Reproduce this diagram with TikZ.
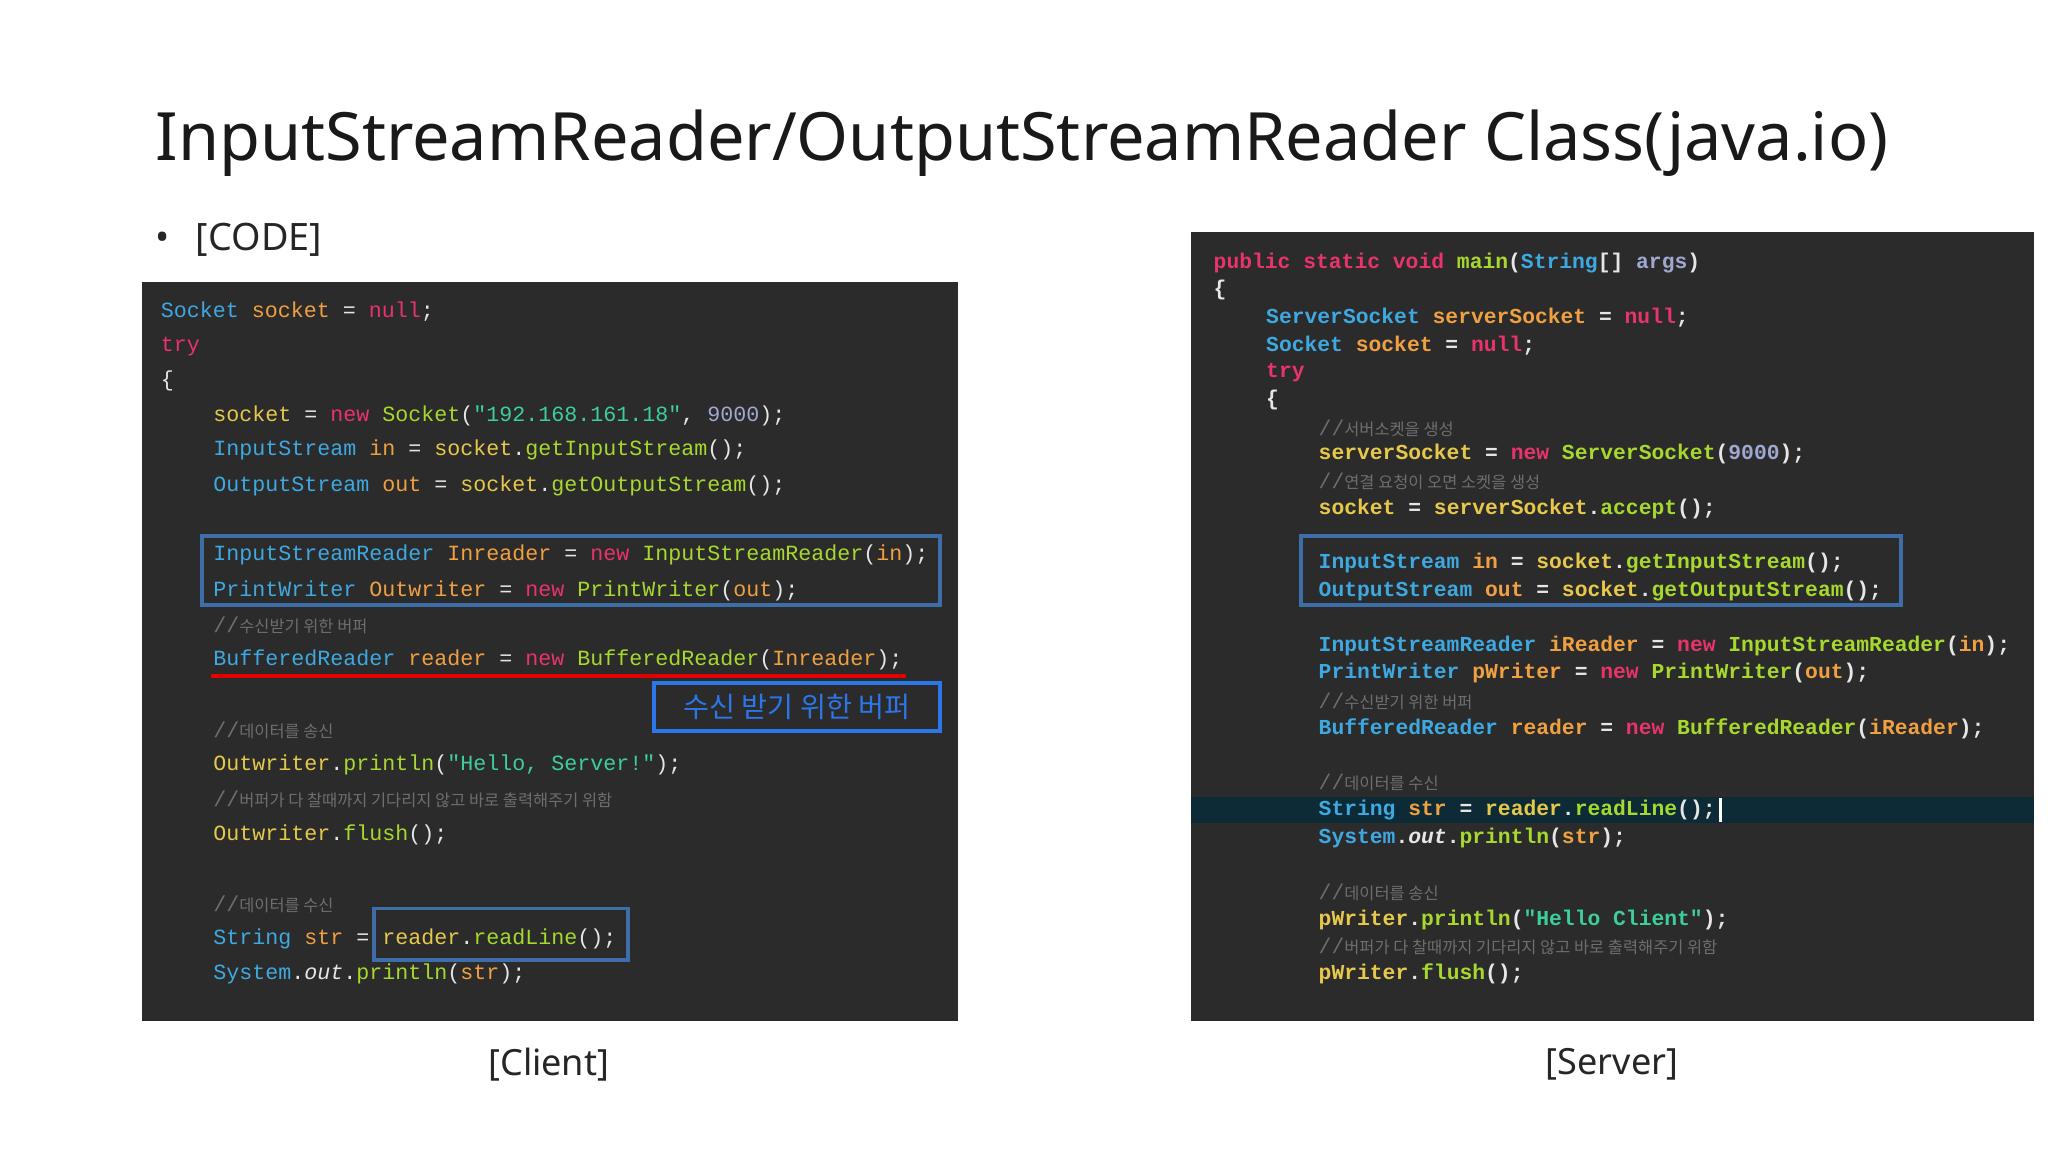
\documentclass[tikz,border=0pt]{standalone}
\usepackage{fontspec}
\setmainfont{Noto Sans}
\setmonofont{Liberation Mono}
\newfontfamily\kr{Noto Sans CJK KR}
\definecolor{cbg}{HTML}{2B2B2B}
\definecolor{cT}{HTML}{3EA8E0}
\definecolor{cV}{HTML}{F0A040}
\definecolor{cK}{HTML}{E8336B}
\definecolor{cM}{HTML}{A6D82E}
\definecolor{cS}{HTML}{3CCF9A}
\definecolor{cN}{HTML}{A0A8D0}
\definecolor{cP}{HTML}{E6E6E6}
\definecolor{cC}{HTML}{6E6E6E}
\definecolor{cO}{HTML}{E6C84A}
\definecolor{cBox}{HTML}{3E6EA8}
\definecolor{cHl}{HTML}{0D2B36}
\newcommand\cTy[1]{\textcolor{cT}{#1}}
\newcommand\cVa[1]{\textcolor{cV}{#1}}
\newcommand\cKw[1]{\textcolor{cK}{#1}}
\newcommand\cMe[1]{\textcolor{cM}{#1}}
\newcommand\cSt[1]{\textcolor{cS}{#1}}
\newcommand\cNu[1]{\textcolor{cN}{#1}}
\newcommand\cPu[1]{\textcolor{cP}{#1}}
\newcommand\cOb[1]{\textcolor{cO}{#1}}
\newcommand\cCo[1]{\textcolor{cC}{\mdseries//{\kr\fontsize{5pt}{6pt}\selectfont #1}}}
\tikzset{
  cl/.style={anchor=west,inner sep=0pt,font=\ttfamily\fontsize{6.6pt}{8pt}\selectfont,text=cP},
  sv/.style={anchor=west,inner sep=0pt,font=\ttfamily\bfseries\fontsize{6.5pt}{8pt}\selectfont,text=cP},
  bluebox/.style={draw=cBox,line width=1.2pt},
  capt/.style={font=\fontsize{11pt}{13pt}\selectfont,text=black!85}
}
\begin{document}
\begin{tikzpicture}[x=0.4pt,y=-0.4pt]
\fill[white] (0,0) rectangle (1560,877.5);
\useasboundingbox (0,0) rectangle (1560,877.5);
\node[anchor=base west,inner sep=0pt,font=\fontsize{20.3pt}{25pt}\selectfont,text=black!90] (title) at (118,122) {InputStreamReader/OutputStreamReader Class(java.io)};
\node[anchor=base west,inner sep=0pt,capt,font=\fontsize{11.5pt}{13pt}\selectfont] (bul) at (118,191) {•\hspace{8pt}[CODE]};
% client
\fill[cbg] (108,215) rectangle (730,778);
\node[cl] (c1) at (122,237) {\cTy{Socket} \cVa{socket} = \cKw{null};};
\node[cl] (c2) at (122,264) {\cKw{try}};
\node[cl] (c3) at (122,290) {\{};
\node[cl] (c4) at (162,317) {\cOb{socket} = \cKw{new} \cMe{Socket}(\cSt{"192.168.161.18"}, \cNu{9000});};
\node[cl] (c5) at (162,343) {\cTy{InputStream} \cVa{in} = \cOb{socket}.\cMe{getInputStream}();};
\node[cl] (c6) at (162,370) {\cTy{OutputStream} \cVa{out} = \cOb{socket}.\cMe{getOutputStream}();};
\node[cl] (c7) at (162,423) {\cTy{InputStreamReader} \cVa{Inreader} = \cKw{new} \cMe{InputStreamReader}(\cVa{in});};
\node[cl] (c8) at (162,450) {\cTy{PrintWriter} \cVa{Outwriter} = \cKw{new} \cMe{PrintWriter}(\cVa{out});};
\node[cl] (c9) at (162,476) {\cCo{수신받기 위한 버퍼}};
\node[cl] (c10) at (162,503) {\cTy{BufferedReader} \cVa{reader} = \cKw{new} \cMe{BufferedReader}(\cVa{Inreader});};
\node[cl] (c11) at (162,556) {\cCo{데이터를 송신}};
\node[cl] (c12) at (162,583) {\cOb{Outwriter}.\cMe{println}(\cSt{"Hello, Server!"});};
\node[cl] (c13) at (162,609) {\cCo{버퍼가 다 찰때까지 기다리지 않고 바로 출력해주기 위함}};
\node[cl] (c14) at (162,636) {\cOb{Outwriter}.\cMe{flush}();};
\node[cl] (c15) at (162,689) {\cCo{데이터를 수신}};
\node[cl] (c16) at (162,715) {\cTy{String} \cVa{str} = \cOb{reader}.\cMe{readLine}();};
\node[cl] (c17) at (162,742) {\cTy{System}.\textit{\cPu{out}}.\cMe{println}(\cVa{str});};
\draw[bluebox] (154,408) rectangle (716,461);
\draw[red!90!black,line width=1.3pt] (161,515) -- (690,515);
\draw[bluebox,draw=cT!70!blue] (498,520) rectangle (716,557);
\node[font=\kr\fontsize{8.6pt}{10pt}\selectfont,text=cT!70!blue] (note) at (607,538.5) {수신 받기 위한 버퍼};
\draw[bluebox] (285,692) rectangle (478,731);
% server
\fill[cbg] (907,177) rectangle (1549,778);
\fill[cHl] (907,607) rectangle (1549,627);
\node[sv] (s1) at (924,200) {\cKw{public static void} \cMe{main}(\cTy{String}[] \cNu{args})};
\node[sv] (s2) at (924,221) {\{};
\node[sv] (s3) at (964,242) {\cTy{ServerSocket} \cVa{serverSocket} = \cKw{null};};
\node[sv] (s4) at (964,263) {\cTy{Socket} \cVa{socket} = \cKw{null};};
\node[sv] (s5) at (964,284) {\cKw{try}};
\node[sv] (s6) at (964,305) {\{};
\node[sv] (s7) at (1004,326) {\cCo{서버소켓을 생성}};
\node[sv] (s8) at (1004,346) {\cOb{serverSocket} = \cKw{new} \cMe{ServerSocket}(\cNu{9000});};
\node[sv] (s9) at (1004,367) {\cCo{연결 요청이 오면 소켓을 생성}};
\node[sv] (s10) at (1004,388) {\cOb{socket} = \cOb{serverSocket}.\cMe{accept}();};
\node[sv] (s11) at (1004,429) {\cTy{InputStream} \cVa{in} = \cOb{socket}.\cMe{getInputStream}();};
\node[sv] (s12) at (1004,450) {\cTy{OutputStream} \cVa{out} = \cOb{socket}.\cMe{getOutputStream}();};
\node[sv] (s13) at (1004,492) {\cTy{InputStreamReader} \cVa{iReader} = \cKw{new} \cMe{InputStreamReader}(\cVa{in});};
\node[sv] (s14) at (1004,513) {\cTy{PrintWriter} \cVa{pWriter} = \cKw{new} \cMe{PrintWriter}(\cVa{out});};
\node[sv] (s15) at (1004,534) {\cCo{수신받기 위한 버퍼}};
\node[sv] (s16) at (1004,555) {\cTy{BufferedReader} \cVa{reader} = \cKw{new} \cMe{BufferedReader}(\cVa{iReader});};
\node[sv] (s17) at (1004,596) {\cCo{데이터를 수신}};
\node[sv] (s18) at (1004,617) {\cTy{String} \cVa{str} = \cOb{reader}.\cMe{readLine}();};
\node[sv] (s19) at (1004,638) {\cTy{System}.\textit{\cPu{out}}.\cMe{println}(\cVa{str});};
\node[sv] (s20) at (1004,680) {\cCo{데이터를 송신}};
\node[sv] (s21) at (1004,701) {\cOb{pWriter}.\cMe{println}(\cSt{"Hello Client"});};
\node[sv] (s22) at (1004,721) {\cCo{버퍼가 다 찰때까지 기다리지 않고 바로 출력해주기 위함}};
\node[sv] (s23) at (1004,742) {\cOb{pWriter}.\cMe{flush}();};
\draw[white,line width=0.8pt] (s18.east) ++(3,-9) -- ++(0,18);
\draw[bluebox] (991,408) rectangle (1448,461);
\node[capt] (cc) at (418,811) {[Client]};
\node[capt] (sc) at (1228,811) {[Server]};
\end{tikzpicture}
\end{document}
